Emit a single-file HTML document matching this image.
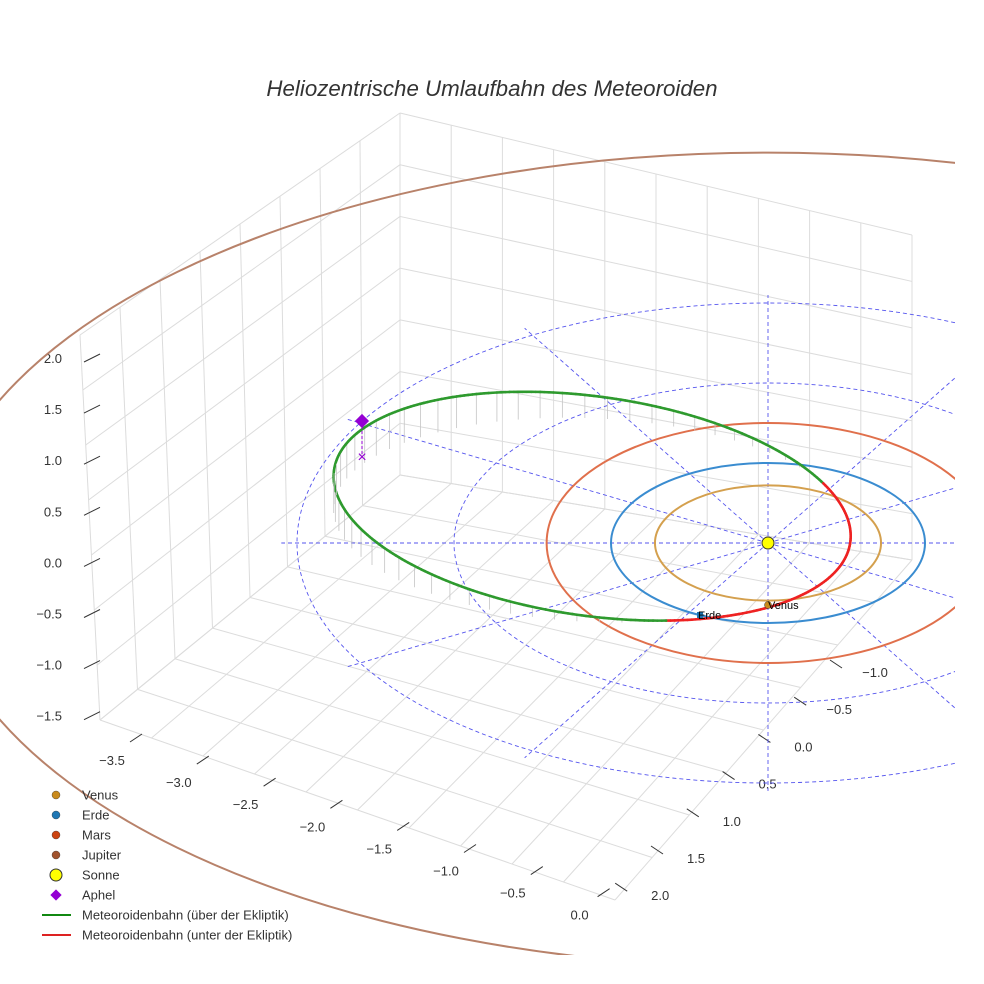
<!DOCTYPE html>
<html><head><meta charset="utf-8"><style>
body{margin:0;background:#fff;}
svg{display:block;font-family:"Liberation Sans",sans-serif;}
</style></head><body>
<svg id="chart" width="984" height="984">
<defs><clipPath id="clip"><rect x="0" y="0" width="955" height="955"/></clipPath></defs>
<text x="492" y="96" text-anchor="middle" font-size="22.3" font-style="italic" fill="#333">Heliozentrische Umlaufbahn des Meteoroiden</text>
<g id="grid"></g>
<g id="ticks"></g>
<g id="plot" clip-path="url(#clip)"></g>
<g>
<line x1="362" y1="421" x2="362" y2="457" stroke="#9400d3" stroke-dasharray="3 2"/>
<rect x="357" y="416" width="10" height="10" fill="#9400d3" transform="rotate(45 362 421)"/>
<text x="362" y="462" text-anchor="middle" font-size="16" fill="#9400d3">×</text>
<circle cx="768" cy="543" r="6" fill="#ffff00" stroke="#333"/>
<circle cx="768" cy="605" r="3.5" fill="#c98a1c" stroke="#333" stroke-width="0.5"/>
<text x="768" y="609" font-size="11" fill="#000">Venus</text>
<rect x="697" y="612" width="6" height="6" fill="#1f77b4"/>
<text x="698" y="619" font-size="11" fill="#000">Erde</text>
</g>
<g id="legend"></g>
</svg>
<script>
const planetNames = ["Venus","Erde","Mars","Jupiter"];
const planetRx = [0.72, 1.0, 1.41, 5.32];
const planetRy = [0.72, 1.0, 1.5, 5.09];
const planetCy = [0, 0, 0, 0.21];
const planetColors = ["#d4a04e","#3a8cd0","#e0704c","#b8826a"];
const legendColors = ["#c98a1c","#1f77b4","#cc4411","#a0522d"];
const refRings = [1, 2, 3];
const radialAngles = [0,30,60,90,120,150,180,210,240,270,300,330];
const meteorCenter = [-1.12, -0.46];
const meteorAxes = [1.66, 1.37];
const meteorTilt = 8;
const meteorZScale = 0.27;
const meteorNodeCenter = 20;
const meteorNodeHalf = 50;
const xTicks = ["−3.5","−3.0","−2.5","−2.0","−1.5","−1.0","−0.5","0.0"];
const yTicks = ["−1.0","−0.5","0.0","0.5","1.0","1.5","2.0"];
const zTicks = ["2.0","1.5","1.0","0.5","0.0","−0.5","−1.0","−1.5"];
const legNames=["Venus","Erde","Mars","Jupiter","Sonne","Aphel","Meteoroidenbahn (über der Ekliptik)","Meteoroidenbahn (unter der Ekliptik)"];

const NS="http://www.w3.org/2000/svg";
function mk(tag, attrs, parent){const e=document.createElementNS(NS,tag);for(const k in attrs)e.setAttribute(k,attrs[k]);parent.appendChild(e);return e;}
const SX=768, SY=543, KX=157, KY=80, KZ=80;
function px(X){return SX+KX*X;}
function py(Y){return SY+KY*Y;}
function lerp(a,b,t){return [a[0]+(b[0]-a[0])*t,a[1]+(b[1]-a[1])*t];}
function bil(c,u,v){return lerp(lerp(c[0],c[1],u),lerp(c[3],c[2],u),v);}

const grid=document.getElementById('grid');
const back=[[400,113],[912,235],[912,560],[400,475]];
const left=[[80,335],[400,113],[400,475],[100,720]];
const floor=[[400,475],[912,560],[615,900],[100,720]];
function gl(a,b){const l=mk('line',{x1:a[0],y1:a[1],x2:b[0],y2:b[1],stroke:'#dcdcdc','stroke-width':1},grid);

}
for(let i=0;i<=10;i++){const u=i/10;gl(bil(back,u,0),bil(back,u,1));gl(bil(floor,u,0),bil(floor,u,1));}
for(let i=0;i<=7;i++){const v=i/7;gl(bil(back,0,v),bil(back,1,v));gl(bil(left,0,v),bil(left,1,v));}
for(let i=0;i<=8;i++){const u=i/8;gl(bil(left,u,0),bil(left,u,1));gl(bil(floor,0,u),bil(floor,1,u));}

const tk=document.getElementById('ticks');
function lab(x,y,t,anchor,name){const e=mk('text',{x:x,y:y,'font-size':13,fill:'#333','text-anchor':anchor},tk);e.textContent=t;

}
zTicks.forEach((t,i)=>{const y=358+i*51.1;lab(62,y+5,t,'end','z-tick-label');mk('line',{x1:84,y1:y+4,x2:100,y2:y-4,stroke:'#333'},tk);});
xTicks.forEach((t,i)=>{const x=112+i*66.8,y=760+i*22.1;lab(x,y+5,t,'middle','x-tick-label');mk('line',{x1:x+18,y1:y-18,x2:x+30,y2:y-26,stroke:'#333'},tk);});
yTicks.forEach((t,i)=>{const x=875-i*35.8,y=672+i*37.2;lab(x,y+5,t,'middle','y-tick-label');mk('line',{x1:x-45,y1:y-12,x2:x-33,y2:y-4,stroke:'#333'},tk);});

const plot=document.getElementById('plot');
refRings.forEach(r=>{const e=mk('ellipse',{cx:SX,cy:SY,rx:KX*r,ry:KY*r,fill:'none',stroke:'#5555ee','stroke-width':0.9,'stroke-dasharray':'4 3'},plot);

});
radialAngles.forEach(a=>{const R=3.1,t=a*Math.PI/180;const e=mk('line',{x1:SX,y1:SY,x2:px(R*Math.cos(t)),y2:py(R*Math.sin(t)),stroke:'#5555ee','stroke-width':0.9,'stroke-dasharray':'4 3'},plot);

});
planetNames.forEach((n,i)=>{const e=mk('ellipse',{cx:SX,cy:py(planetCy[i]),rx:KX*planetRx[i],ry:KY*planetRy[i],fill:'none',stroke:planetColors[i],'stroke-width':2},plot);

});
const ph=meteorTilt*Math.PI/180;let prev=null;
const cH=Math.cos(meteorNodeHalf*Math.PI/180);
for(let k=0;k<=360;k++){const t=k*Math.PI/180;
 const ex=meteorAxes[0]*KX*Math.cos(t), ey=meteorAxes[1]*KY*Math.sin(t);
 const x=px(meteorCenter[0])+ex*Math.cos(ph)-ey*Math.sin(ph);
 const y=py(meteorCenter[1])+ex*Math.sin(ph)+ey*Math.cos(ph);
 const z=-meteorZScale*(Math.cos(t-meteorNodeCenter*Math.PI/180)-cH);
 if(z>0 && k%5==0){const d=mk('line',{x1:x,y1:y,x2:x,y2:y+z*KZ,stroke:'#c4c4c4','stroke-width':0.8},plot);
  
  }
 if(prev){const s=mk('line',{x1:prev[0],y1:prev[1],x2:x,y2:y,stroke:z>=0?'#2e9a2e':'#ee2222','stroke-width':2.6,'stroke-linecap':'round'},plot);
  
  }
 prev=[x,y];}

const lg=document.getElementById('legend');
legNames.forEach((n,i)=>{const y=795+i*20;
 if(i<4){mk('circle',{cx:56,cy:y,r:4,fill:legendColors[i],stroke:'#333','stroke-width':0.4},lg);}
 else if(i==4){mk('circle',{cx:56,cy:y,r:6,fill:'#ffff00',stroke:'#333'},lg);}
 else if(i==5){mk('rect',{x:52,y:y-4,width:8,height:8,fill:'#9400d3',transform:'rotate(45 56 '+y+')'},lg);}
 else {mk('line',{x1:42,y1:y,x2:71,y2:y,stroke:i==6?'#118811':'#dd2222','stroke-width':2},lg);}
 const t=mk('text',{x:82,y:y+4.5,'font-size':13,fill:'#333'},lg);t.textContent=n;
 
 });
</script>
</body></html>
